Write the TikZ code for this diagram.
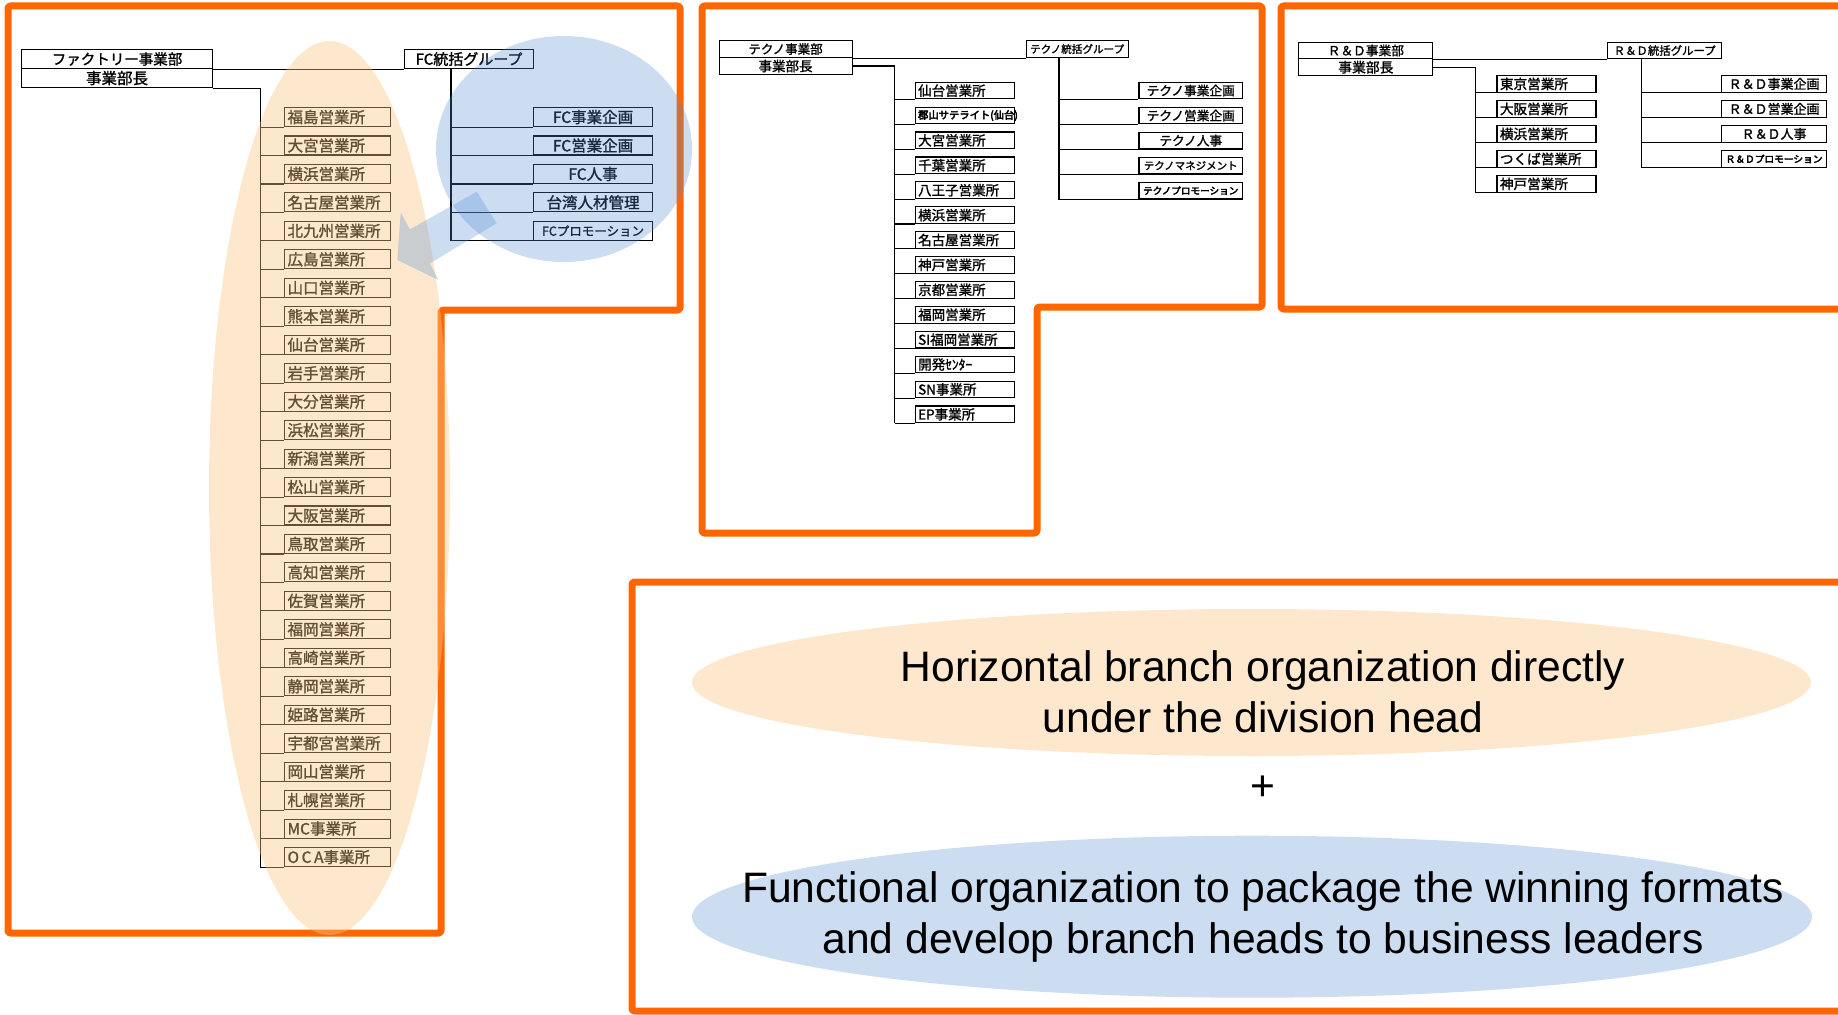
\documentclass[tikz,border=0pt]{standalone}
\usepackage{fontspec}
\setmainfont{Liberation Sans}
\newfontfamily\jp[FakeBold=1.4]{Noto Sans CJK JP}
\newfontfamily\jpheavy[FakeBold=4]{Noto Sans CJK JP}
\newcommand\jpsize[1]{\jp\fontsize{#1pt}{#1pt}\selectfont}
\usetikzlibrary{shapes.geometric}
\definecolor{orangeline}{RGB}{255,102,0}
\definecolor{peach}{RGB}{250,198,130}
\definecolor{sky}{RGB}{85,142,213}
\tikzset{
  conn/.style={line width=1.1pt},
  cbox/.style={draw, line width=1.1pt, anchor=north west, inner sep=0pt, align=center},
  lbox/.style={draw, line width=1.1pt, anchor=north west, inner xsep=3pt, inner ysep=0pt, align=left},
  orangeframe/.style={draw=orangeline, line width=7pt, rounded corners=2.5pt, line join=round},
  peachfill/.style={fill=peach, fill opacity=0.4},
  skyfill/.style={fill=sky, fill opacity=0.3},
  bigtext/.style={font=\fontsize{42.6pt}{51pt}\selectfont, align=center, inner sep=0pt}
}
\begin{document}
\begin{tikzpicture}[x=1pt, y=-1pt]
\useasboundingbox (0,0) rectangle (1838,1014);
\clip (0,0) rectangle (1838,1014);

% ---------- orange frames ----------
\draw[orangeframe] (8,6) -- (680,6) -- (680,310) -- (441,310) -- (441,933) -- (8,933) -- cycle;
\draw[orangeframe] (702,6) -- (1262,6) -- (1262,307) -- (1037,307) -- (1037,533) -- (702,533) -- cycle;
\draw[orangeframe] (1281,6) rectangle (1870,309);
\draw[orangeframe] (632,582) rectangle (1870,1011);

% ---------- Factory division ----------
\node[cbox, font=\jpsize{14.5}, minimum width=191pt, minimum height=19pt] (fhq) at (21,49) {ファクトリー事業部};
\node[cbox, font=\jpsize{15.5}, minimum width=191pt, minimum height=19pt] (fhead) at (21,68) {事業部長};
\node[cbox, font=\jpsize{15}, minimum width=129pt, minimum height=19pt] (fgrp) at (404,49) {FC統括グループ};

\foreach \t [count=\i] in {福島営業所,大宮営業所,横浜営業所,名古屋営業所,北九州営業所,広島営業所,山口営業所,熊本営業所,仙台営業所,岩手営業所,大分営業所,浜松営業所,新潟営業所,松山営業所,大阪営業所,鳥取営業所,高知営業所,佐賀営業所,福岡営業所,高崎営業所,静岡営業所,姫路営業所,宇都宮営業所,岡山営業所,札幌営業所,MC事業所,O\,C\,A事業所}
  \node[lbox, font=\jpsize{15.5}, text width=100pt, minimum height=19pt] (fb\i) at (284,{107+28.46*(\i-1)}) {\t};

\foreach \t/\fs [count=\i] in {FC事業企画/15.5,FC営業企画/15.5,FC人事/15.5,台湾人材管理/15.5,FCプロモーション/12.5}
  \node[cbox, font=\jpsize{\fs}, minimum width=119pt, minimum height=19pt] (fc\i) at (533,{107+28.46*(\i-1)}) {\t};

\draw[conn] (fhq.south east) -- (fgrp.south west);
\draw[conn] (fhead.south east) -- ++(47,0) coordinate (ftrunk) -- (ftrunk |- fb27.south west);
\foreach \i in {1,...,27} \draw[conn] (ftrunk |- fb\i.south west) -- (fb\i.south west);
\draw[conn] (fgrp.south west) ++(47,0) coordinate (fgtrunk) -- (fgtrunk |- fc5.south west);
\foreach \i in {1,...,5} \draw[conn] (fgtrunk |- fc\i.south west) -- (fc\i.south west);

% ---------- Techno division ----------
\node[cbox, font=\jpsize{12.5}, minimum width=133pt, minimum height=17pt] (thq) at (718.5,40) {テクノ事業部};
\node[cbox, font=\jpsize{13.5}, minimum width=133pt, minimum height=17pt] (thead) at (718.5,57) {事業部長};
\node[cbox, font=\jpsize{10.6}, minimum width=102pt, minimum height=17pt] (tgrp) at (1025.6,40) {テクノ統括グループ};

\foreach \t/\fs [count=\i] in {仙台営業所/13.5,{\jpheavy 郡山サテライト(仙台)}/10.3,大宮営業所/13.5,千葉営業所/13.5,八王子営業所/13.5,横浜営業所/13.5,名古屋営業所/13.5,神戸営業所/13.5,京都営業所/13.5,福岡営業所/13.5,SI福岡営業所/13.5,開発ｾﾝﾀｰ/13.5,SN事業所/13.5,EP事業所/13.5}
  \node[lbox, font=\jpsize{\fs}, text width=93pt, minimum height=16.7pt] (tb\i) at (914.6,{81.7+24.9*(\i-1)}) {\t};

\foreach \t/\fs [count=\i] in {テクノ事業企画/12.7,テクノ営業企画/12.7,テクノ人事/12.7,テクノマネジメント/10.5,{\jpheavy テクノプロモーション}/9.6}
  \node[cbox, font=\jpsize{\fs}, minimum width=103.6pt, minimum height=16.7pt] (tc\i) at (1138.4,{81.7+25*(\i-1)}) {\t};

\draw[conn] (thq.south east) -- (tgrp.south west);
\draw[conn] (thead.east) -- ++(42,0) coordinate (ttrunk) -- (ttrunk |- tb14.south west);
\foreach \i in {1,...,14} \draw[conn] (ttrunk |- tb\i.south west) -- (tb\i.south west);
\draw[conn] (tgrp.south west) ++(33.4,0) coordinate (tgtrunk) -- (tgtrunk |- tc5.south west);
\foreach \i in {1,...,5} \draw[conn] (tgtrunk |- tc\i.south west) -- (tc\i.south west);

% ---------- R&D division ----------
\node[cbox, font=\jpsize{12.7}, minimum width=134pt, minimum height=16.6pt] (rhq) at (1298.3,41.7) {Ｒ＆Ｄ事業部};
\node[cbox, font=\jpsize{13.8}, minimum width=134pt, minimum height=16.7pt] (rhead) at (1298.3,58.3) {事業部長};
\node[cbox, font=\jpsize{11.4}, minimum width=113.8pt, minimum height=16.6pt] (rgrp) at (1607.2,41.7) {Ｒ＆Ｄ統括グループ};

\foreach \t [count=\i] in {東京営業所,大阪営業所,横浜営業所,つくば営業所,神戸営業所}
  \node[lbox, font=\jpsize{13.6}, text width=93pt, minimum height=16.7pt] (rb\i) at (1496.4,{75+25*(\i-1)}) {\t};

\foreach \t/\fs [count=\i] in {Ｒ＆Ｄ事業企画/13,Ｒ＆Ｄ営業企画/13,Ｒ＆Ｄ人事/13,{\jpheavy Ｒ＆Ｄプロモーション}/9.7}
  \node[cbox, font=\jpsize{\fs}, minimum width=105pt, minimum height=16.7pt] (rc\i) at (1721,{75+25*(\i-1)}) {\t};

\draw[conn] (rhq.south east) -- (rgrp.south west);
\draw[conn] (rhead.east) -- ++(41.7,0) coordinate (rtrunk) -- (rtrunk |- rb5.south west);
\foreach \i in {1,...,5} \draw[conn] (rtrunk |- rb\i.south west) -- (rb\i.south west);
\draw[conn] (rgrp.south west) ++(34.1,0) coordinate (rgtrunk) -- (rgtrunk |- rc4.south west);
\foreach \i in {1,...,4} \draw[conn] (rgtrunk |- rc\i.south west) -- (rc\i.south west);

% ---------- translucent highlights over the Factory chart ----------
\fill[peachfill] (329.5,488) ellipse [x radius=120.5, y radius=447];
\fill[skyfill] (564,149) ellipse [x radius=128, y radius=113];
\fill[skyfill] (476.7,191.7) -- (410,229.3) -- (400.7,212.3) -- (397.3,260)
  -- (438.3,280) -- (430,263.3) -- (496.7,223.3) -- cycle;

% ---------- summary ----------
\fill[peachfill] (1251.5,682.5) ellipse [x radius=559.5, y radius=73.5];
\fill[skyfill] (1252,916.7) ellipse [x radius=560, y radius=81];
\node[bigtext] (horiz) at (1263,692) {Horizontal branch organization directly\\under the division head};
\node[bigtext] (plus) at (1263,788) {+};
\node[bigtext] (func) at (1263,917) {Functional organization to package the winning formats\\and develop branch heads to business leaders};
\end{tikzpicture}
\end{document}
